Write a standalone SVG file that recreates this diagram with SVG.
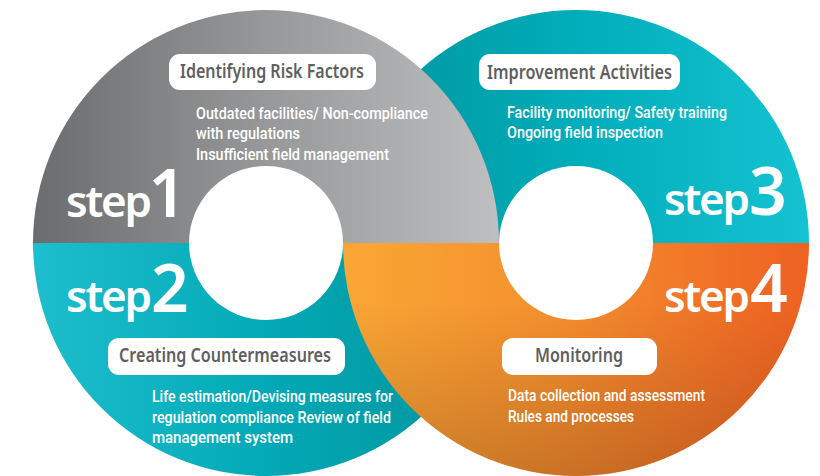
<svg xmlns="http://www.w3.org/2000/svg" width="820" height="476" viewBox="0 0 820 476">
<defs>
<linearGradient id="gGray" gradientUnits="userSpaceOnUse" x1="33" y1="0" x2="499" y2="0">
<stop offset="0" stop-color="#6b6c6e"/><stop offset="0.5" stop-color="#979899"/><stop offset="1" stop-color="#bebfc1"/>
</linearGradient>
<linearGradient id="gTealL" gradientUnits="userSpaceOnUse" x1="33" y1="0" x2="499" y2="0">
<stop offset="0" stop-color="#1dbecd"/><stop offset="0.5" stop-color="#03a9b6"/><stop offset="1" stop-color="#00939a"/>
</linearGradient>
<linearGradient id="gTealR" gradientUnits="userSpaceOnUse" x1="343" y1="0" x2="809" y2="0">
<stop offset="0" stop-color="#00949b"/><stop offset="0.5" stop-color="#01adba"/><stop offset="1" stop-color="#15c2d1"/>
</linearGradient>
<linearGradient id="gOrange" gradientUnits="userSpaceOnUse" x1="343" y1="0" x2="809" y2="0">
<stop offset="0" stop-color="#faa735"/><stop offset="0.45" stop-color="#f5902e"/><stop offset="1" stop-color="#ee6122"/>
</linearGradient>
<linearGradient id="gShade" gradientUnits="userSpaceOnUse" x1="0" y1="300" x2="0" y2="476">
<stop offset="0" stop-color="#5a2a10" stop-opacity="0"/><stop offset="1" stop-color="#5a2a10" stop-opacity="0.28"/>
</linearGradient>
</defs>
<style>
.box{fill:#ffffff}
.lbl{font-family:"Noto Sans","Open Sans","DejaVu Sans",sans-serif;font-size:19px;font-weight:600;fill:#5e5f61}
.body{font-family:Roboto,"Liberation Sans",sans-serif;font-size:16.5px;font-weight:500;fill:#ffffff}
.stp{font-family:"Noto Sans","Open Sans","DejaVu Sans",sans-serif;font-weight:600;fill:#ffffff}
.word{font-size:44px;letter-spacing:-2.3px}
.num{font-size:66px;letter-spacing:0}
.hole{fill:#ffffff}
</style>
<g id="rings">
<path d="M33 243 A233 233 0 0 0 499 243 Z" fill="url(#gTealL)"/>
<path d="M343 243 A233 233 0 0 1 809 243 Z" fill="url(#gTealR)"/>
<path d="M33 243 A233 233 0 0 1 499 243 Z" fill="url(#gGray)"/>
<path d="M343 243 A233 233 0 0 0 809 243 Z" fill="url(#gOrange)"/>
<path d="M343 243 A233 233 0 0 0 809 243 Z" fill="url(#gShade)"/>
<circle class="hole" cx="266" cy="243" r="77"/>
<circle class="hole" cx="576" cy="243" r="77"/>
</g>
<g id="connectors"/>
<g id="step1">
<rect class="box" x="169" y="54" width="207" height="36" rx="11"/>
<text class="lbl" x="180" y="78" textLength="184" lengthAdjust="spacingAndGlyphs">Identifying Risk Factors</text>
<text class="body" x="196" y="119" textLength="232" lengthAdjust="spacingAndGlyphs">Outdated facilities/ Non-compliance</text>
<text class="body" x="196" y="139" textLength="104" lengthAdjust="spacingAndGlyphs">with regulations</text>
<text class="body" x="196" y="160" textLength="193" lengthAdjust="spacingAndGlyphs">Insufficient field management</text>
<text class="stp" x="66" y="217"><tspan class="word">step</tspan><tspan class="num" x="148.5">1</tspan></text>
</g>
<g id="step2">
<rect class="box" x="108" y="338" width="237" height="37" rx="11"/>
<text class="lbl" x="119" y="362" textLength="212" lengthAdjust="spacingAndGlyphs">Creating Countermeasures</text>
<text class="body" x="152" y="402" textLength="241" lengthAdjust="spacingAndGlyphs">Life estimation/Devising measures for</text>
<text class="body" x="152" y="423" textLength="239" lengthAdjust="spacingAndGlyphs">regulation compliance Review of field</text>
<text class="body" x="152" y="443" textLength="141" lengthAdjust="spacingAndGlyphs">management system</text>
<text class="stp" x="66" y="312"><tspan class="word">step</tspan><tspan class="num" x="151">2</tspan></text>
</g>
<g id="step3">
<rect class="box" x="479" y="54" width="201" height="36" rx="11"/>
<text class="lbl" x="487" y="79" textLength="185" lengthAdjust="spacingAndGlyphs">Improvement Activities</text>
<text class="body" x="507" y="118" textLength="220" lengthAdjust="spacingAndGlyphs">Facility monitoring/ Safety training</text>
<text class="body" x="507" y="138" textLength="156" lengthAdjust="spacingAndGlyphs">Ongoing field inspection</text>
<text class="stp" x="664" y="215"><tspan class="word">step</tspan><tspan class="num" x="749">3</tspan></text>
</g>
<g id="step4">
<rect class="box" x="502" y="338" width="155" height="37" rx="11"/>
<text class="lbl" x="535" y="362" textLength="88" lengthAdjust="spacingAndGlyphs">Monitoring</text>
<text class="body" x="508" y="401" textLength="197" lengthAdjust="spacingAndGlyphs">Data collection and assessment</text>
<text class="body" x="508" y="422" textLength="126" lengthAdjust="spacingAndGlyphs">Rules and processes</text>
<text class="stp" x="664" y="312"><tspan class="word">step</tspan><tspan class="num" x="750">4</tspan></text>
</g>
</svg>
